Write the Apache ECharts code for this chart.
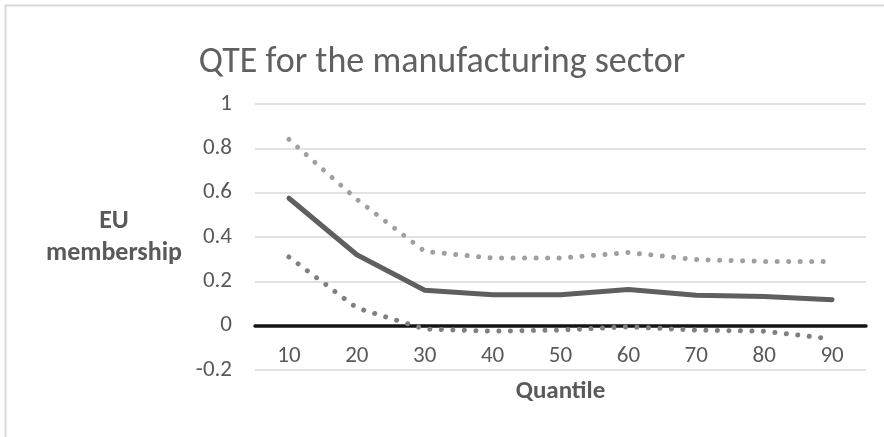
<!DOCTYPE html>
<html>
<head>
<meta charset="utf-8">
<script src="https://cdn.jsdelivr.net/npm/echarts@6/dist/echarts.min.js"></script>
<style>
  html, body { margin: 0; padding: 0; background: #fff; }
  #chart { width: 884px; height: 437px; }
</style>
</head>
<body>
<div id="chart"></div>
<script>
// Quantile treatment effect of EU membership, manufacturing sector
const quantiles = ['10', '20', '30', '40', '50', '60', '70', '80', '90'];
const estimate  = [0.575, 0.32, 0.16, 0.14, 0.14, 0.163, 0.137, 0.132, 0.117];
const upperBand = [0.84, 0.57, 0.335, 0.305, 0.305, 0.33, 0.298, 0.29, 0.29];
const lowerBand = [0.31, 0.08, -0.015, -0.025, -0.02, -0.005, -0.02, -0.025, -0.06];

const font = 'Calibri, Carlito, Lato, "Open Sans", sans-serif';
const textGrey = '#595959';

const chart = echarts.init(document.getElementById('chart'), null, { renderer: 'canvas' });

chart.setOption({
  animation: false,
  backgroundColor: '#fff',
  graphic: [{
    type: 'rect',
    shape: { x: 5.5, y: 5.5, width: 900, height: 460 },
    style: { fill: 'none', stroke: '#d9d9d9', lineWidth: 2 },
    silent: true
  }],
  title: {
    text: 'QTE for the manufacturing sector',
    left: 'center',
    top: 40,
    textStyle: { fontFamily: font, fontSize: 36, fontWeight: 'normal', color: '#606060' }
  },
  grid: { left: 255, right: 18, top: 104, bottom: 67, outerBoundsMode: 'none' },
  xAxis: {
    type: 'category',
    data: quantiles,
    boundaryGap: true,
    name: 'Quantile',
    nameLocation: 'middle',
    nameGap: 9,
    nameMoveOverlap: false,
    nameTextStyle: { fontFamily: font, fontSize: 25, fontWeight: 'bold', color: textGrey },
    axisLine: { onZero: true, lineStyle: { color: '#141414', width: 3.5 } },
    axisTick: { show: false },
    axisLabel: { fontFamily: font, fontSize: 23, color: textGrey, margin: -25 },
    splitLine: { show: false }
  },
  yAxis: {
    type: 'value',
    min: -0.2,
    max: 1,
    interval: 0.2,
    name: 'EU\nmembership',
    nameLocation: 'middle',
    nameRotate: 0,
    nameGap: 141,
    nameMoveOverlap: false,
    nameTextStyle: { fontFamily: font, fontSize: 26, fontWeight: 'bold', color: textGrey, lineHeight: 32, align: 'center', verticalAlign: 'middle' },
    axisLine: { show: false },
    axisTick: { show: false },
    axisLabel: {
      fontFamily: font, fontSize: 23, color: textGrey, margin: 23,
      formatter: v => String(Math.round(v * 10) / 10)
    },
    splitLine: { lineStyle: { color: '#d9d9d9', width: 1.5 } }
  },
  series: [
    {
      name: 'Upper bound',
      type: 'line',
      data: upperBand,
      symbol: 'none',
      lineStyle: { color: '#a0a0a0', width: 5, type: [0.01, 11.5], cap: 'round' },
      z: 3
    },
    {
      name: 'Lower bound',
      type: 'line',
      data: lowerBand,
      symbol: 'none',
      lineStyle: { color: '#808080', width: 5, type: [0.01, 11.5], cap: 'round' },
      z: 3
    },
    {
      name: 'QTE',
      type: 'line',
      data: estimate,
      symbol: 'none',
      lineStyle: { color: '#5f5f5f', width: 5, cap: 'round', join: 'round' },
      z: 4
    }
  ]
});
</script>
</body>
</html>
